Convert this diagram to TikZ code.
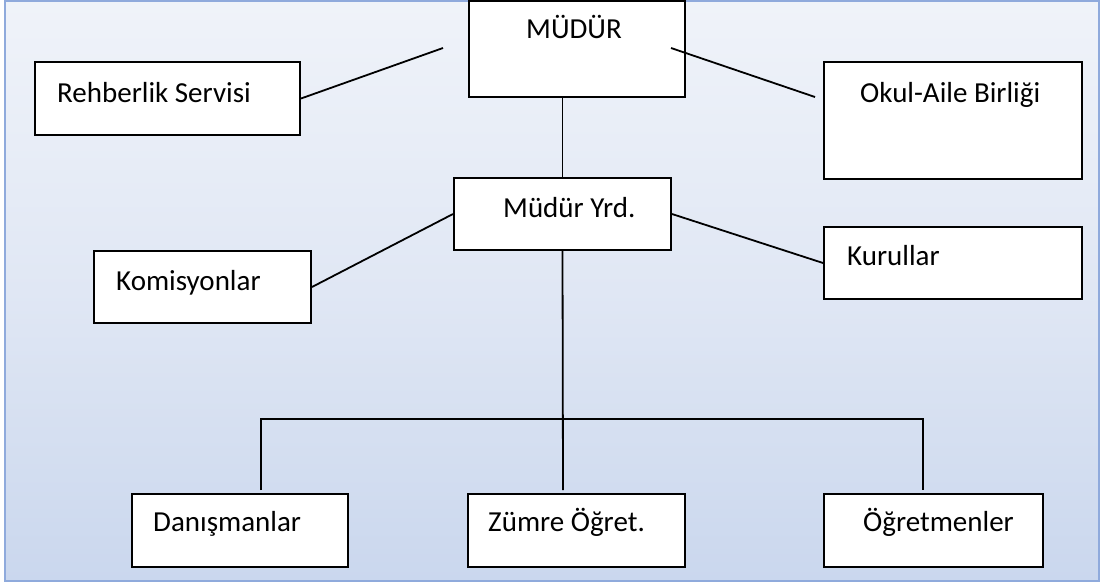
\documentclass[tikz,border=0pt]{standalone}
\usepackage{fontspec}
\setmainfont{Carlito}
\definecolor{framecol}{RGB}{143,170,220}
\definecolor{bgbot}{RGB}{180,199,231}
\definecolor{bgmid}{RGB}{224,231,244}
\pgfdeclareverticalshading{bggrad}{100bp}{color(0bp)=(bgbot); color(50bp)=(bgmid); color(100bp)=(white)}
\begin{document}
\begin{tikzpicture}[x=1pt,y=-1pt,
  box/.style={draw, line width=2pt, fill=white, inner sep=0pt},
  txt/.style={anchor=base west, inner sep=0pt, font=\fontsize{29}{35}\selectfont},
  link/.style={line width=1.8pt}]

\useasboundingbox (0,0) rectangle (1100,586);

% Background and frame
\shade[shading=bggrad] (5,1) rectangle (1099,581);
\draw[framecol, line width=2.5pt] (5,1) rectangle (1099,581);

% Top level
\node[box, minimum width=216, minimum height=96] (mudur) at (577,49) {};
\node[txt] (mudurtxt) at (526,39) {MÜDÜR};
\node[box, minimum width=265, minimum height=73] (rehber) at (167.5,98.5) {};
\node[txt] (rehbertxt) at (57,102) {Rehberlik Servisi};
\node[box, minimum width=258, minimum height=117] (okul) at (953,120.5) {};
\node[txt] (okultxt) at (860,102) {Okul-Aile Birliği};

% Second level
\node[box, minimum width=217, minimum height=72] (yrd) at (562.5,214) {};
\node[txt] (yrdtxt) at (503,217) {Müdür Yrd.};
\node[box, minimum width=217, minimum height=72] (komis) at (202.5,287) {};
\node[txt] (komistxt) at (116,290) {Komisyonlar};
\node[box, minimum width=258, minimum height=72] (kurul) at (953,263) {};
\node[txt] (kurultxt) at (847,265) {Kurullar};

% Bottom level
\node[box, minimum width=216, minimum height=73] (danis) at (240,530.5) {};
\node[txt] (danistxt) at (153,531) {Danışmanlar};
\node[box, minimum width=217, minimum height=73] (zumre) at (576.5,530.5) {};
\node[txt] (zumretxt) at (488,531) {Zümre Öğret.};
\node[box, minimum width=219, minimum height=73] (ogret) at (933.5,530.5) {};
\node[txt] (ogrettxt) at (863,531) {Öğretmenler};

% Free ends of the lines
\coordinate (rehberend) at (443,48);
\coordinate (okulstart) at (671,48);
\coordinate (okulend) at (815,97);
\coordinate (busl) at (261,419);
\coordinate (busr) at (923,419);
\coordinate (dropl) at (261,490);
\coordinate (dropm) at (563,490);
\coordinate (dropr) at (923,490);

% Lines
\draw[link] (rehber.east) -- (rehberend);
\draw[link] (okulstart) -- (okulend);
\draw[link] (yrd.north) -- (yrd.north |- mudur.south);
\draw[link] (yrd.west) -- (komis.east);
\draw[link] (yrd.east) -- (kurul.west);
\draw[link] (yrd.south) -- (dropm);
\draw[link] (dropl) -- (busl) -- (busr) -- (dropr);

\end{tikzpicture}
\end{document}
